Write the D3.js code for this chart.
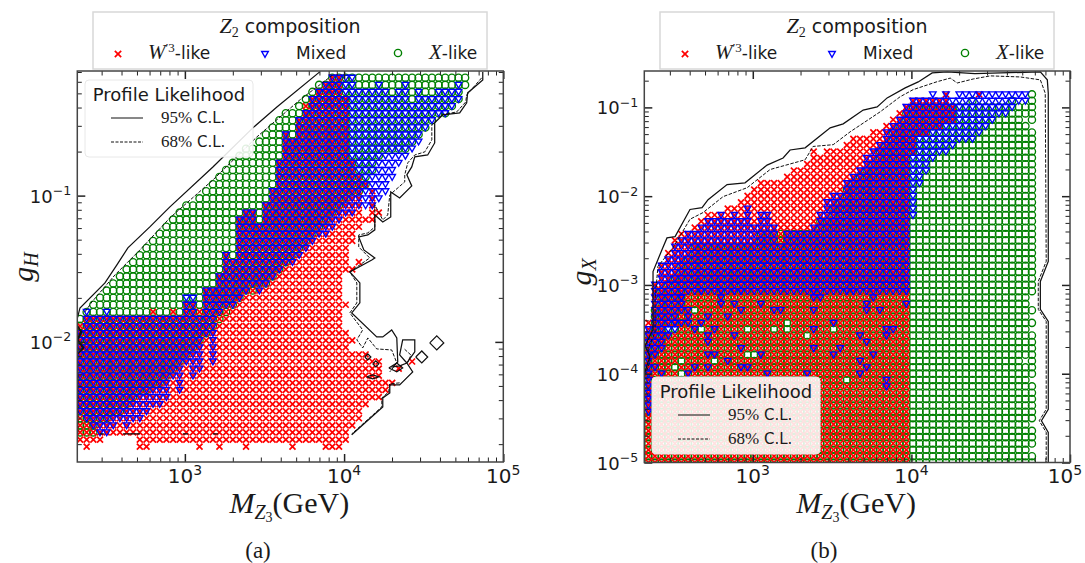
<!DOCTYPE html>
<html lang="en">
<head>
<meta charset="UTF-8">
<title>Z2 composition</title>
<script src="https://d3js.org/d3.v7.min.js"></script>
<style>
  body { margin: 0; background: #fff; }
  text { fill: #1a1a1a; }
  .sans { font-family: "DejaVu Sans", sans-serif; }
  .serif { font-family: "Liberation Serif", serif; }
</style>
</head>
<body>
<svg width="1085" height="563"></svg>
<script>
// log10(M_Z3 / GeV) of the scan columns, shared by both panels
const massLog = [2.300,2.342,2.383,2.425,2.467,2.509,2.550,2.592,2.634,2.675,
  2.717,2.759,2.800,2.842,2.884,2.926,2.967,3.009,3.051,3.092,
  3.134,3.176,3.217,3.259,3.301,3.343,3.384,3.426,3.468,3.509,
  3.551,3.593,3.634,3.676,3.718,3.760,3.801,3.843,3.885,3.926,
  3.968,4.010,4.051,4.093,4.135,4.177,4.218,4.260,4.302,4.343,
  4.385,4.427,4.468,4.510,4.552,4.594,4.635,4.677,4.719,4.760];

// panel (a): log10(g_H) of the scan rows
const aRows = [-2.716,-2.668,-2.619,-2.571,-2.522,-2.474,-2.425,-2.377,-2.328,-2.280,
  -2.231,-2.183,-2.134,-2.086,-2.037,-1.989,-1.940,-1.892,-1.843,-1.795,
  -1.746,-1.698,-1.649,-1.601,-1.552,-1.504,-1.455,-1.407,-1.358,-1.310,
  -1.261,-1.213,-1.164,-1.116,-1.067,-1.019,-0.970,-0.922,-0.873,-0.825,
  -0.776,-0.728,-0.679,-0.631,-0.582,-0.534,-0.485,-0.437,-0.388,-0.340,
  -0.291,-0.243,-0.194];

// per column: top and bottom of each class, in log10(g_H)
const aGreenHigh = [null,-1.85,-1.80,-1.75,-1.70,-1.65,-1.60,-1.55,-1.50,-1.45,
  -1.40,-1.35,-1.30,-1.26,-1.22,-1.17,-1.13,-1.09,-1.05,-1.00,
  -0.96,-0.92,-0.88,-0.83,-0.79,-0.75,-0.70,-0.66,-0.62,-0.58,
  -0.54,-0.50,-0.46,-0.42,-0.38,-0.34,-0.30,-0.26,-0.22,-0.20,
  -0.20,-0.20,-0.20,-0.20,-0.20,-0.20,-0.20,-0.20,-0.20,-0.20,
  -0.20,-0.20,-0.20,-0.20,-0.20,-0.20,-0.20,-0.20,-0.20,-0.20];
const aGreenLow = [null,-2.60,-2.60,-2.60,-2.50,-2.50,-2.47,-2.45,-2.42,-2.37,
  -2.32,-2.32,-2.27,-2.27,-2.22,-2.18,-2.13,-2.08,-2.03,-2.00,
  -1.94,-1.89,-1.84,-1.79,-1.74,-1.69,-1.65,-1.65,-1.60,-1.60,
  -1.55,-1.50,-1.45,-1.40,-1.36,-1.31,-1.27,-1.22,-1.17,-1.12,
  -1.06,-1.02,-0.97,-0.97,-0.92,-0.82,-0.73,-0.69,-0.69,-0.69,
  -0.69,-0.63,-0.58,-0.53,-0.48,-0.44,-0.44,-0.39,-0.35,-0.25];
const aBlueHigh = [null,-1.95,-1.79,-1.84,-1.84,-1.79,-1.84,-1.84,-1.84,-1.84,
  -1.84,-1.84,-1.84,-1.84,-1.84,-1.84,-1.84,-1.70,-1.70,-1.84,
  -1.64,-1.64,-1.56,-1.40,-1.45,-1.17,-1.12,-1.12,-1.20,-1.06,
  -0.96,-0.77,-0.585,-0.63,-0.50,-0.42,-0.33,-0.30,-0.24,-0.20,
  -0.20,-0.20,-0.20,-0.30,-0.30,-0.30,-0.24,-0.30,-0.35,-0.30,
  -0.24,-0.39,-0.30,-0.35,-0.35,-0.30,-0.30,-0.30,-0.24,null];
const aBlueLow = [null,-2.47,-2.52,-2.57,-2.62,-2.62,-2.57,-2.52,-2.57,-2.52,
  -2.52,-2.47,-2.42,-2.42,-2.37,-2.22,-2.32,-2.13,-2.22,-2.18,
  -1.94,-2.13,-1.79,-1.74,-1.74,-1.69,-1.65,-1.60,-1.65,-1.60,
  -1.55,-1.50,-1.45,-1.45,-1.40,-1.36,-1.31,-1.27,-1.27,-1.22,
  -1.17,-1.12,-1.12,-1.06,-1.06,-1.06,-1.02,-0.97,-0.87,-0.78,
  -0.73,-0.69,-0.63,-0.53,-0.50,-0.44,-0.44,-0.41,-0.35,null];
const aRedHigh = [null,-1.90,-1.84,-1.84,-1.84,-1.84,-1.84,-1.84,-1.84,-1.84,
  -1.84,-1.84,-1.84,-1.84,-1.84,-1.84,-1.84,-1.75,-1.75,-1.84,
  -1.64,-1.64,-1.56,-1.40,-1.45,-1.17,-1.12,-1.12,-1.20,-1.06,
  -0.96,-0.77,-0.585,-0.63,-0.50,-0.42,-0.33,-0.30,-0.24,-0.20,
  -0.20,-0.35,-0.80,-0.87,-0.92,-0.97,-1.10,null,null,null,
  null,null,null,null,null,null,null,null,null,null];
const aRedLow = [null,-2.67,-2.67,-2.67,-2.67,-2.62,-2.62,-2.62,-2.62,-2.62,
  -2.67,-2.67,-2.67,-2.67,-2.67,-2.67,-2.67,-2.67,-2.67,-2.67,
  -2.67,-2.67,-2.67,-2.67,-2.67,-2.67,-2.67,-2.67,-2.67,-2.67,
  -2.67,-2.67,-2.67,-2.67,-2.67,-2.67,-2.67,-2.67,-2.67,-2.67,
  -2.67,-1.49,-1.30,-1.21,-0.92,-1.16,-1.11,null,null,null,
  null,null,null,null,null,null,null,null,null,null];
// extra runs [column, top, bottom]: the broken right edge, the bottom row and strays in the green band
const aRedRuns = [[41,-1.73,-1.73],[41,-1.94,-2.67],[42,-1.49,-1.49],[42,-1.98,-1.98],[42,-2.08,-2.57],
  [43,-1.45,-1.45],[43,-2.08,-2.51],[44,-1.16,-1.16],[44,-2.08,-2.42],[45,-2.13,-2.38],[46,-2.13,-2.38],
  [47,-2.28,-2.33],[48,-2.28,-2.28],[49,-2.18,-2.18],[51,-2.13,-2.13],
  [2,-2.716,-2.716],[10,-2.716,-2.716],[11,-2.716,-2.716],[19,-2.716,-2.716],[22,-2.716,-2.716],
  [26,-2.716,-2.716],[33,-2.716,-2.716],[38,-2.716,-2.716],[39,-2.716,-2.716],[40,-2.716,-2.716],
  [12,-1.795,-1.795],[15,-1.795,-1.795],[19,-1.795,-1.795],[25,-1.70,-1.70],[26,-1.405,-1.405],
  [29,-1.166,-1.166],[27,-1.214,-1.214],[32,-0.688,-0.688],[34,-0.537,-0.585],[35,-0.394,-0.435],[37,-0.298,-0.298]];

// panel (a): 95% and 68% contours as [log10 M, log10 g_H]
const a95Diagonal = [[2.322,-1.85],[2.341,-1.768],[2.498,-1.597],[2.573,-1.474],[2.642,-1.357],[2.78,-1.214],[2.906,-1.077],
  [3.176,-0.804],[3.427,-0.537],[3.578,-0.394],[3.847,-0.154]];
const a95Edge = [[4.871,-0.155],[4.871,-0.209],[4.776,-0.298],[4.77,-0.366],[4.726,-0.434],[4.62,-0.448],[4.569,-0.503],
  [4.569,-0.64],[4.525,-0.722],[4.444,-0.735],[4.425,-0.804],[4.394,-0.858],[4.425,-0.934],[4.349,-1.016],[4.293,-0.975],
  [4.293,-1.146],[4.243,-1.18],[4.193,-1.132],[4.193,-1.234],[4.149,-1.269],[4.092,-1.282],[4.124,-1.371],[4.193,-1.426],
  [4.174,-1.44],[4.036,-1.522],[4.099,-1.597],[4.099,-1.733],[4.048,-1.802],[4.205,-1.966],[4.243,-1.966],[4.299,-1.918],
  [4.331,-1.973],[4.337,-2.137],[4.306,-2.171],[4.35,-2.164],[4.394,-2.144],[4.444,-2.068],[4.444,-1.986],[4.368,-1.986],
  [4.349,-2.089],[4.394,-2.144],[4.431,-2.205],[4.349,-2.294],[4.287,-2.294],[4.287,-2.349],[4.243,-2.383],[4.243,-2.444],[4.048,-2.635]];
const a95Islands = [
  [[4.538,-2.007],[4.582,-1.959],[4.626,-2.007],[4.582,-2.055],[4.538,-2.007]],
  [[4.45,-2.103],[4.488,-2.062],[4.525,-2.103],[4.488,-2.144],[4.45,-2.103]],
  [[4.13,-2.103],[4.149,-2.082],[4.168,-2.103],[4.149,-2.123],[4.13,-2.103]],
  [[4.18,-2.15],[4.199,-2.13],[4.218,-2.15],[4.199,-2.171],[4.18,-2.15]],
  [[4.142,-2.239],[4.18,-2.225],[4.218,-2.239],[4.18,-2.253],[4.142,-2.239]],
  [[4.281,-2.178],[4.331,-2.144],[4.368,-2.178],[4.331,-2.205],[4.281,-2.178]],
  [[2.322,-1.884],[2.353,-1.931],[2.328,-1.986],[2.366,-2.041],[2.328,-2.082],[2.36,-2.04],[2.322,-1.99],[2.345,-1.93],[2.322,-1.884]],
  [[2.611,-2.629],[2.718,-2.629]],[[2.466,-2.629],[2.491,-2.629]],[[2.987,-2.629],[3.019,-2.629]],[[3.176,-2.629],[3.207,-2.629]]];
const a68Diagonal = [[2.372,-1.795],[2.416,-1.727],[2.561,-1.542],[2.718,-1.371],[2.906,-1.152],[3.176,-0.893],[3.452,-0.599],[3.722,-0.346],[3.929,-0.175]];
const a68Edge = [[4.864,-0.195],[4.77,-0.312],[4.764,-0.36],[4.707,-0.428],[4.613,-0.448],[4.551,-0.517],[4.551,-0.619],[4.507,-0.701],
  [4.444,-0.722],[4.4,-0.776],[4.381,-0.858],[4.381,-0.906],[4.287,-0.995],[4.274,-1.132],[4.243,-1.166],[4.193,-1.064],[4.193,-1.214],
  [4.149,-1.255],[4.092,-1.269],[4.092,-1.351],[4.161,-1.426],[4.036,-1.522],[4.08,-1.597],[4.08,-1.733],[4.036,-1.802],[4.117,-1.918],
  [4.08,-1.986],[4.117,-2.041],[4.149,-1.973],[4.205,-2.048],[4.299,-2.055],[4.331,-2.144],[4.287,-2.205]];
const a68Islands = [[[4.349,-2.28],[4.287,-2.287],[4.28,-2.342],[4.237,-2.383],[4.237,-2.444],[4.048,-2.629]],
  [[2.328,-2.226],[2.328,-2.636]],[[4.38,-2.05],[4.42,-2.09],[4.40,-2.14]]];

// panel (b): log10(g_X) of the scan rows
const bRows = [-5.000,-4.929,-4.857,-4.786,-4.714,-4.643,-4.571,-4.500,-4.428,-4.357,
  -4.285,-4.214,-4.142,-4.071,-3.999,-3.928,-3.856,-3.785,-3.713,-3.642,
  -3.570,-3.499,-3.427,-3.356,-3.284,-3.213,-3.141,-3.070,-2.998,-2.927,
  -2.855,-2.784,-2.712,-2.641,-2.569,-2.498,-2.426,-2.355,-2.283,-2.212,
  -2.140,-2.069,-1.997,-1.926,-1.854,-1.783,-1.711,-1.640,-1.568,-1.497,
  -1.425,-1.354,-1.282,-1.211,-1.139,-1.068,-0.996,-0.925,-0.853];

const bGreenHigh = [null,-3.60,-3.30,-3.10,-3.00,-2.90,-2.80,-2.70,-2.60,-2.60,
  -2.60,-2.60,-2.60,-2.55,-2.55,-2.55,-2.55,-2.55,-2.45,-2.45,
  -2.45,-2.45,-2.45,-2.45,-2.45,-2.45,-2.40,-2.30,-2.25,-2.15,
  -2.05,-1.95,-1.85,-1.80,-1.70,-1.65,-1.50,-1.40,-1.30,-1.20,
  -1.10,-1.00,-1.00,-1.00,-1.00,-1.00,-1.00,-1.00,-1.00,-1.00,
  -0.92,-0.99,-0.99,-0.99,-0.99,-0.99,-0.92,-1.00,-1.00,-0.85];
const bGreenLow = [null,-5,-5,-5,-5,-5,-5,-5,-5,-5, -5,-5,-5,-5,-5,-5,-5,-5,-5,-5,
  -5,-5,-5,-5,-5,-5,-5,-5,-5,-5, -5,-5,-5,-5,-5,-5,-5,-5,-5,-5,
  -5,-5,-5,-5,-5,-5,-5,-5,-5,-5, -5,-5,-5,-5,-5,-5,-5,-5,-5,-5];
const bBlueHigh = [null,-3.50,-2.97,-2.75,-2.69,-2.55,-2.49,-2.46,-2.41,-2.35,
  -2.30,-2.30,-2.23,-2.29,-2.23,-2.29,-2.17,-2.32,-2.24,-2.24,
  -2.38,-2.54,-2.43,-2.43,-2.43,-2.43,-2.32,-2.19,-2.10,-2.02,
  -2.02,-1.87,-1.79,-1.72,-1.59,-1.51,-1.39,-1.25,-1.22,-1.12,
  -1.03,-0.92,-0.92,-0.92,-0.85,-0.92,-0.85,-0.92,-0.85,-0.85,
  -0.85,-0.85,-0.85,-0.85,-0.85,-0.85,-0.85,-0.85,-0.85,null];
const bBlueLow = [null,-4.40,-3.75,-3.70,-3.60,-3.50,-3.30,-3.10,-3.05,-3.05,
  -3.05,-3.05,-3.05,-3.05,-3.05,-3.05,-3.05,-3.05,-3.05,-3.05,
  -3.05,-3.05,-3.05,-3.05,-3.05,-3.05,-3.05,-3.05,-3.05,-3.05,
  -3.05,-3.05,-3.05,-3.05,-3.05,-3.05,-3.05,-3.05,-3.05,-3.05,
  -3.05,-2.19,-1.89,-1.74,-1.59,-1.52,-1.52,-1.44,-1.35,-1.35,
  -1.35,-1.29,-1.22,-1.14,-1.07,-1.07,-0.99,-0.92,-0.92,null];
const bRedHigh = [null,-3.44,-2.97,-2.75,-2.66,-2.49,-2.46,-2.43,-2.35,-2.29,
  -2.24,-2.21,-2.21,-2.17,-2.15,-2.10,-2.02,-1.95,-1.89,-1.89,
  -1.89,-1.89,-1.81,-1.74,-1.74,-1.65,-1.53,-1.59,-1.53,-1.53,
  -1.48,-1.40,-1.33,-1.33,-1.33,-1.25,-1.25,-1.19,-1.12,-1.04,
  -1.00,-0.92,-0.92,-0.92,-0.92,-0.92,-0.92,-0.99,null,null,
  null,null,null,null,null,null,null,null,null,null];
const bRedLow = [null,-5,-5,-5,-5,-5,-5,-5,-5,-5, -5,-5,-5,-5,-5,-5,-5,-5,-5,-5,
  -5,-5,-5,-5,-5,-5,-5,-5,-5,-5, -5,-5,-5,-5,-5,-5,-5,-5,-5,-5,
  -5,-1.50,-1.25,-1.25,-1.20,-1.20,-1.15,-1.15,null,null,
  null,null,null,null,null,null,null,null,null,null];
const bRedRuns = [[46,-0.85,-0.85],[51,-0.85,-0.85]];
// lone Mixed points below the dense band, [column, log10 g_X]
const bBlueRuns = [[9,-3.09],[12,-3.09],[14,-3.09],[15,-3.09],[26,-3.09],[31,-3.09],[32,-3.09],
  [6,-3.17],[12,-3.17],[26,-3.17],[27,-3.17],[35,-3.17],[12,-3.24],[14,-3.24],[18,-3.24],[34,-3.24],
  [7,-3.31],[15,-3.31],[20,-3.31],[21,-3.31],[26,-3.31],[34,-3.31],[36,-3.31],[7,-3.38],[10,-3.38],[13,-3.38],
  [5,-3.45],[6,-3.45],[7,-3.45],[9,-3.45],[29,-3.45],[8,-3.52],[11,-3.52],[26,-3.52],[37,-3.52],[38,-3.52],
  [10,-3.59],[14,-3.59],[33,-3.59],[37,-3.59],[10,-3.67],[34,-3.67],[15,-3.73],[26,-3.73],[30,-3.73],
  [10,-3.80],[11,-3.80],[18,-3.80],[29,-3.80],[35,-3.80],[13,-3.88],[33,-3.88],[2,-3.94],[8,-3.94],[10,-3.94],[15,-3.94],[16,-3.94],[34,-3.94],
  [3,-4.0],[7,-4.0],[19,-4.0],[25,-4.0],[33,-4.0],[37,-4.08],[37,-4.15],[40,-3.09],[40,-3.24]
].map(d => [d[0], d[1], d[1]]);
// scan points that lost their W'3 mark, so the green circle shows
const bRedHoles = [[8,-3.31],[4,-3.52],[5,-3.52],[9,-3.52],[16,-3.52],[20,-3.52],[22,-3.455],[22,-3.52],[29,-3.52],
  [25,-3.59],[16,-3.80],[17,-3.80],[6,-3.875],[11,-3.875],[5,-3.94],[6,-4.0],[31,-4.08]];
const bGreenHoles = [[59,-3.11],[59,-3.16],[59,-3.23],[59,-3.39],[59,-3.52],[59,-4.06],[59,-4.60],[59,-4.85],[58,-3.87],[58,-1.14],[59,-1.21]];

const b95 = [[2.32,-3.98],[2.352,-3.80],[2.32,-3.69],[2.371,-3.50],[2.371,-2.85],[2.428,-2.60],[2.459,-2.47],[2.51,-2.455],[2.604,-2.15],
  [2.68,-2.13],[2.718,-2.04],[2.838,-1.87],[2.951,-1.85],[3.09,-1.65],[3.191,-1.57],[3.235,-1.48],[3.33,-1.455],[3.488,-1.23],[3.57,-1.185],
  [3.696,-1.03],[3.784,-0.994],[3.847,-0.893],[3.961,-0.78],[4.043,-0.713],[4.131,-0.612],[4.226,-0.60],[4.40,-0.62],[4.813,-0.60],[4.857,-0.69],
  [4.863,-0.84],[4.863,-2.735],[4.813,-2.96],[4.813,-3.275],[4.863,-3.41],[4.863,-4.40],[4.82,-4.53],[4.863,-4.66],[4.863,-5]];
const b68 = [[2.32,-4.02],[2.352,-3.86],[2.34,-3.72],[2.384,-3.53],[2.384,-3.16],[2.402,-2.79],[2.497,-2.58],[2.604,-2.26],[2.686,-2.185],
  [2.813,-2.005],[2.964,-1.905],[3.109,-1.70],[3.33,-1.59],[3.38,-1.44],[3.507,-1.42],[3.614,-1.275],[3.803,-1.05],[3.929,-0.88],[4.011,-0.80],
  [4.163,-0.71],[4.245,-0.67],[4.289,-0.725],[4.39,-0.68],[4.497,-0.645],[4.686,-0.657],[4.813,-0.69],[4.844,-0.84],[4.85,-2.735],[4.80,-2.96],
  [4.80,-3.275],[4.85,-3.41],[4.85,-4.40],[4.806,-4.53],[4.85,-4.66],[4.85,-5]];

const xTicks = [1e3, 1e4, 1e5];
const xTickPowers = ["3", "4", "5"];
const aYTicks = [1e-2, 1e-1];
const aYPowers = ["\u22122", "\u22121"];
const bYTicks = [1e-5, 1e-4, 1e-3, 1e-2, 1e-1];
const bYPowers = ["\u22125", "\u22124", "\u22123", "\u22122", "\u22121"];
const classNames = ["W", "Mixed", "X-like"];

const svg = d3.select("svg");
const markColor = { red: "#ff0000", blue: "#0000ff", green: "#008000" };
const crossPath = d3.symbol(d3.symbolTimes, 25)();
const circlePath = "M3.6,0A3.6,3.6,0,1,1,-3.6,0A3.6,3.6,0,1,1,3.6,0Z";
const trianglePath = "M-3.3,-2.5L3.3,-2.5L0,3.3Z";

// turn the column tables into scan points, snapping every value onto the nearest row
function scanPoints(rows, high, low, runs, holes) {
  const nearest = v => d3.leastIndex(rows, r => Math.abs(r - v));
  const skip = new Set((holes || []).map(d => d[0] + ":" + nearest(d[1])));
  const pts = [];
  const add = (k, hi, lo) => {
    for (let j = nearest(lo); j <= nearest(hi); j++) {
      if (!skip.has(k + ":" + j)) pts.push({ m: Math.pow(10, massLog[k]), g: Math.pow(10, rows[j]) });
    }
  };
  massLog.forEach((_, k) => { if (high[k] !== null) add(k, high[k], low[k]); });
  (runs || []).forEach(r => add(r[0], r[1], r[2]));
  return pts;
}

function decades(from, to) {
  const out = [];
  for (let p = from; p <= to; p++) for (let n = 2; n <= 9; n++) out.push(n * Math.pow(10, p));
  return out;
}

function tickLabel(sel, power, anchor, size) {
  const t = sel.append("text").attr("class", "sans").attr("text-anchor", anchor).attr("font-size", size);
  t.append("tspan").text("10");
  t.append("tspan").attr("font-size", size * 0.7).attr("dy", -size * 0.42).text(power);
  return t;
}

function drawPanel(p) {
  const x = d3.scaleLog().domain(p.xDomain).range(p.xRange);
  const y = d3.scaleLog().domain(p.yDomain).range(p.yRange);
  const [left, right] = p.xRange, [bottom, top] = p.yRange;
  const line = d3.line().x(d => x(Math.pow(10, d[0]))).y(d => y(Math.pow(10, d[1])));

  svg.append("clipPath").attr("id", p.id).append("rect")
    .attr("x", left).attr("y", top).attr("width", right - left).attr("height", bottom - top);
  const plot = svg.append("g").attr("clip-path", "url(#" + p.id + ")");

  // green first, then W'3, Mixed last
  plot.append("g").selectAll("path").data(p.green).enter().append("path")
    .attr("d", circlePath).attr("fill", "none").attr("stroke", markColor.green).attr("stroke-width", 1.35)
    .attr("transform", d => "translate(" + x(d.m) + "," + y(d.g) + ")");
  plot.append("g").selectAll("path").data(p.red).enter().append("path")
    .attr("d", crossPath).attr("fill", "none").attr("stroke", markColor.red).attr("stroke-width", 1.7)
    .attr("transform", d => "translate(" + x(d.m) + "," + y(d.g) + ")");
  plot.append("g").selectAll("path").data(p.blue).enter().append("path")
    .attr("d", trianglePath).attr("fill", "none").attr("stroke", markColor.blue).attr("stroke-width", 1.35)
    .attr("transform", d => "translate(" + x(d.m) + "," + y(d.g) + ")");

  p.solid.forEach(c => plot.append("path").attr("d", line(c)).attr("fill", "none").attr("stroke", "#111").attr("stroke-width", 1.25));
  p.dashed.forEach(c => plot.append("path").attr("d", line(c)).attr("fill", "none").attr("stroke", "#111").attr("stroke-width", 1).attr("stroke-dasharray", "3.5,1.5"));

  // ticks point inward on all four sides
  const ticks = (axis, pos, vals, size, width) => {
    const g = svg.append("g").attr("transform", pos)
      .call(axis.tickValues(vals).tickSize(size).tickFormat(""));
    g.select(".domain").remove();
    g.selectAll("line").attr("stroke", "#222").attr("stroke-width", width);
  };
  const xMinor = decades(2, 4).filter(v => v >= p.xDomain[0]);
  const yMinor = decades(p.yFrom, 0).filter(v => v >= p.yDomain[0] && v <= p.yDomain[1]);
  ticks(d3.axisBottom(x), "translate(0," + bottom + ")", p.xMajor, -8, 1.5);
  ticks(d3.axisBottom(x), "translate(0," + bottom + ")", xMinor, -4.5, 1);
  ticks(d3.axisTop(x), "translate(0," + top + ")", p.xMajor, -8, 1.5);
  ticks(d3.axisTop(x), "translate(0," + top + ")", xMinor, -4.5, 1);
  ticks(d3.axisLeft(y), "translate(" + left + ",0)", p.yMajor, -8, 1.5);
  ticks(d3.axisLeft(y), "translate(" + left + ",0)", yMinor, -4.5, 1);
  ticks(d3.axisRight(y), "translate(" + right + ",0)", p.yMajor, -8, 1.5);
  ticks(d3.axisRight(y), "translate(" + right + ",0)", yMinor, -4.5, 1);

  svg.append("rect").attr("x", left).attr("y", top).attr("width", right - left).attr("height", bottom - top)
    .attr("fill", "none").attr("stroke", "#444").attr("stroke-width", 1.5);

  p.xMajor.forEach((v, i) => {
    // the last label of panel (b) has to stay inside the page
    tickLabel(svg.append("g").attr("transform", "translate(" + Math.min(x(v), 1065) + ",483)"), xTickPowers[i], "middle", 20);
  });
  p.yMajor.forEach((v, i) => {
    tickLabel(svg.append("g").attr("transform", "translate(" + (left - 6) + "," + (y(v) + 7) + ")"), p.yPowers[i], "end", 18);
  });

  // axis titles
  const xt = svg.append("text").attr("class", "serif").attr("text-anchor", "middle")
    .attr("x", (left + right) / 2 - 1).attr("y", 513).attr("font-size", 30);
  xt.append("tspan").attr("font-style", "italic").text("M");
  xt.append("tspan").attr("font-style", "italic").attr("font-size", 20).attr("dy", 6).text("Z");
  xt.append("tspan").attr("font-size", 14).attr("dy", 3).text("3");
  xt.append("tspan").attr("dy", -9).text("(GeV)");

  const yt = svg.append("text").attr("class", "serif").attr("text-anchor", "middle")
    .attr("transform", "translate(" + p.yLabelX + "," + p.yLabelY + ") rotate(-90)").attr("font-size", 30);
  yt.append("tspan").attr("font-style", "italic").text("g");
  yt.append("tspan").attr("font-style", "italic").attr("font-size", 20).attr("dy", 5).text(p.yName);

  svg.append("text").attr("class", "serif").attr("text-anchor", "middle")
    .attr("x", p.captionX).attr("y", 558).attr("font-size", 23).text(p.caption);

  // class legend above the axes
  const lg = svg.append("g").attr("transform", "translate(" + p.legendX + ",0)");
  lg.append("rect").attr("x", 0).attr("y", 12).attr("width", 394).attr("height", 57)
    .attr("fill", "#fff").attr("stroke", "#d8d8d8").attr("stroke-width", 1.5);
  const title = lg.append("text").attr("text-anchor", "middle").attr("x", 197).attr("y", 33);
  title.append("tspan").attr("class", "serif").attr("font-style", "italic").attr("font-size", 22).text("Z");
  title.append("tspan").attr("class", "serif").attr("font-size", 14).attr("dy", 4).text("2");
  title.append("tspan").attr("class", "sans").attr("font-size", 19).attr("dy", -4).text(" composition");
  lg.append("path").attr("d", d3.symbol(d3.symbolTimes, 28)()).attr("fill", "none").attr("stroke", markColor.red).attr("stroke-width", 1.7).attr("transform", "translate(25,54)");
  lg.append("path").attr("d", trianglePath).attr("fill", "none").attr("stroke", markColor.blue).attr("stroke-width", 1.4).attr("transform", "translate(172,54)");
  lg.append("path").attr("d", circlePath).attr("fill", "none").attr("stroke", markColor.green).attr("stroke-width", 1.4).attr("transform", "translate(305,53)");
  const w = lg.append("text").attr("x", 55).attr("y", 59);
  w.append("tspan").attr("class", "serif").attr("font-style", "italic").attr("font-size", 21).text(classNames[0]);
  w.append("tspan").attr("class", "serif").attr("font-size", 13).attr("dy", -7).text("\u20323");
  w.append("tspan").attr("class", "sans").attr("font-size", 17).attr("dy", 7).text("-like");
  lg.append("text").attr("class", "sans").attr("x", 203).attr("y", 59).attr("font-size", 17).text(classNames[1]);
  const xl = lg.append("text").attr("x", 336).attr("y", 59);
  xl.append("tspan").attr("class", "serif").attr("font-style", "italic").attr("font-size", 21).text("X");
  xl.append("tspan").attr("class", "sans").attr("font-size", 17).text("-like");

  // profile likelihood legend inside the axes
  const pl = svg.append("g").attr("transform", "translate(" + p.innerX + "," + p.innerY + ")");
  pl.append("rect").attr("width", 168).attr("height", 77).attr("rx", 4)
    .attr("fill", "#fff").attr("fill-opacity", 0.88).attr("stroke", "#e8e8e8");
  pl.append("text").attr("class", "sans").attr("x", 84).attr("y", 21).attr("text-anchor", "middle").attr("font-size", 18).text("Profile Likelihood");
  [[38, "95%", null], [62, "68%", "3,1.5"]].forEach(r => {
    pl.append("line").attr("x1", 26).attr("x2", 58).attr("y1", r[0]).attr("y2", r[0])
      .attr("stroke", "#111").attr("stroke-width", 1).attr("stroke-dasharray", r[2]);
    const t = pl.append("text").attr("x", 76).attr("y", r[0] + 5);
    t.append("tspan").attr("class", "serif").attr("font-size", 17).text(r[1]);
    t.append("tspan").attr("class", "sans").attr("font-size", 15).text(" C.L.");
  });
}

drawPanel({
  id: "clipA", xDomain: [211, 1e5], xRange: [77.3, 503.3], yDomain: [0.00151, 0.711], yRange: [462, 71],
  xMajor: xTicks, yMajor: aYTicks, yPowers: aYPowers, yFrom: -3,
  green: scanPoints(aRows, aGreenHigh, aGreenLow),
  blue: scanPoints(aRows, aBlueHigh, aBlueLow),
  red: scanPoints(aRows, aRedHigh, aRedLow, aRedRuns),
  solid: [a95Diagonal, a95Edge].concat(a95Islands), dashed: [a68Diagonal, a68Edge].concat(a68Islands),
  yName: "H", yLabelX: 33, yLabelY: 267, caption: "(a)", captionX: 258, legendX: 93, innerX: 85, innerY: 80
});
drawPanel({
  id: "clipB", xDomain: [207, 1e5], xRange: [644.3, 1070], yDomain: [1e-5, 0.257], yRange: [462.5, 71],
  xMajor: xTicks, yMajor: bYTicks, yPowers: bYPowers, yFrom: -5,
  green: scanPoints(bRows, bGreenHigh, bGreenLow, null, bGreenHoles),
  blue: scanPoints(bRows, bBlueHigh, bBlueLow, bBlueRuns),
  red: scanPoints(bRows, bRedHigh, bRedLow, bRedRuns, bRedHoles),
  solid: [b95], dashed: [b68],
  yName: "X", yLabelX: 591, yLabelY: 272, caption: "(b)", captionX: 824, legendX: 660, innerX: 652, innerY: 377
});
</script>
</body>
</html>
